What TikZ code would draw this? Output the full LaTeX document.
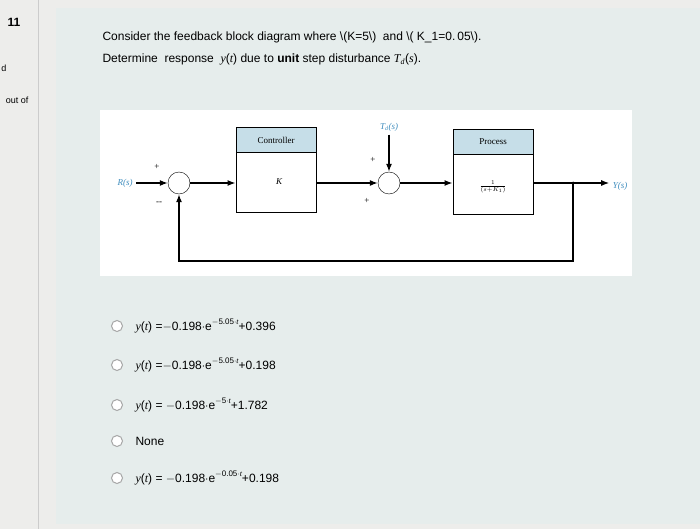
\documentclass[tikz,border=0pt]{standalone}
\usepackage{fontspec}
\setmainfont{Liberation Sans}
\newfontfamily\tms{Liberation Serif}
\usetikzlibrary{positioning,arrows.meta}

\definecolor{panel}{HTML}{E6EDEC}
\definecolor{sidebar}{HTML}{EDEDEB}
\definecolor{labblue}{HTML}{3F8DBE}
\definecolor{headfill}{HTML}{C6DEE8}

\newcommand{\yt}{{\tms\itshape y}({\tms\itshape t})}
\newcommand{\ex}[1]{e\raisebox{0.55em}{\footnotesize #1}}

\tikzset{
  blk/.style={draw, line width=1pt, minimum width=80pt, minimum height=85pt},
  hdr/.style={draw, line width=1pt, fill=headfill, minimum width=80pt, minimum height=25pt, font=\tms\small},
  sumpt/.style={draw, circle, minimum size=22pt, inner sep=0pt, fill=white},
  sig/.style={font=\tms\itshape\small, text=labblue},
  sgn/.style={font=\tms\small},
  flow/.style={line width=1.3pt, -{Latex[length=8pt,width=6pt]}},
  opt/.style={anchor=west, font=\large},
  radio/.style={circle, draw=gray!70, line width=1pt, fill=white, minimum size=11pt, inner sep=0pt}
}

\begin{document}
\begin{tikzpicture}[x=1pt,y=-1pt]
\useasboundingbox (0,0) rectangle (700,529);

% background panels
\fill[sidebar] (0,0) rectangle (700,529);
\fill[panel] (56,8) rectangle (700,524);
\draw[gray!40] (38,0) -- (38,529);
\node[font=\bfseries\large] (num) at (14,22) {11};
\node[font=\small] (mk) at (4,68) {d};
\node[font=\small, anchor=east] (outof) at (32,100) {out of};

% question
\node[anchor=base west, font=\large] (q1) at (99,41)
  {Consider the feedback block diagram where \textbackslash(K=5\textbackslash)\ \ and \textbackslash( K\_1=0.\,05\textbackslash).};
\node[anchor=base west, font=\large] (q2) at (99,63)
  {Determine\ \ response\ \ \yt\ due to \textbf{unit} step disturbance {\tms\itshape T\textsubscript{d}}({\tms\itshape s}).};

% diagram
\fill[white] (100,110) rectangle (632,276);
\node[sig] (R) at (125,183) {R(s)};
\node[sumpt] (s1) at (179,183) {};
\node[sgn] at (157,167) {+};
\node[sgn] at (159,203) {--};
\node[blk] (ctl) at (276,170) {};
\node[hdr, anchor=north] (ctlh) at (ctl.north) {Controller};
\node[font=\tms\itshape\small] (K) at (279,182) {K};
\node[sumpt] (s2) at (389,183) {};
\node[sgn] at (373,160) {+};
\node[sgn] at (367,201) {+};
\node[sig] (Td) at (389,127) {T\textsubscript{d}(s)};
\node[blk] (proc) at (493,172) {};
\node[hdr, anchor=north] (proch) at (proc.north) {Process};
\node[font=\tms\small] (tf) at (493,187) {$\frac{1}{(s+K_1)}$};
\node[sig] (Y) at (620,186) {Y(s)};
\coordinate (br) at (573,183);
\coordinate (fbR) at (573,261);
\coordinate (fbL) at (179,261);

\draw[flow] (R) -- (s1);
\draw[flow] (s1) -- (ctl.west |- s1);
\draw[flow] (ctl.east |- s2) -- (s2);
\draw[flow] (Td) -- (s2);
\draw[flow] (s2) -- (proc.west |- s2);
\draw[flow] (proc.east |- s2) -- (Y.west |- s2);
\draw[flow] (br) -- (fbR) -- (fbL) -- (s1);
\fill (br) circle (1.5pt);

% answer options
\foreach \yy/\txt in {
  326/{\yt\ =$-$0.198$\cdot$\ex{$-$5.05$\cdot$\tms\itshape t}+0.396},
  365/{\yt\ =$-$0.198$\cdot$\ex{$-$5.05$\cdot$\tms\itshape t}+0.198},
  405/{\yt\ = $-$0.198$\cdot$\ex{$-$5$\cdot$\tms\itshape t}+1.782},
  441/{None},
  478/{\yt\ = $-$0.198$\cdot$\ex{$-$0.05$\cdot$\tms\itshape t}+0.198}}
{
  \node[radio] (r\yy) at (117,\yy) {};
  \node[opt, right=9pt of r\yy] (o\yy) {\txt};
}
\end{tikzpicture}
\end{document}
